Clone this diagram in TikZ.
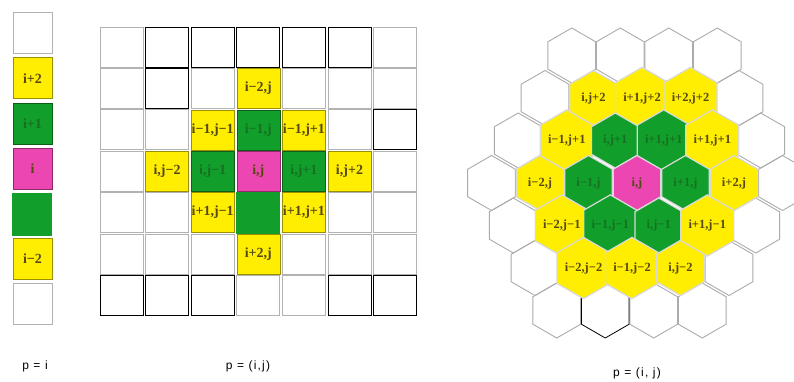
\documentclass[tikz,border=0pt]{standalone}
\usepackage{fontspec}
\setmainfont{Liberation Serif}
\newfontfamily\capfont[LetterSpace=10]{Liberation Sans}
\usetikzlibrary{shapes.geometric}
\definecolor{cellyellow}{RGB}{255,238,0}
\definecolor{cellgreen}{RGB}{18,158,42}
\definecolor{cellpink}{RGB}{236,70,178}
\definecolor{labelink}{RGB}{85,72,18}
\definecolor{greenink}{RGB}{22,112,34}

\begin{document}
\begin{tikzpicture}[x=1pt, y=-1pt,
    font=\fontsize{14}{14}\selectfont\bfseries,
    blank/.style={},
    sq/.style={draw=gray!60, line width=0.9pt, minimum width=43pt, minimum height=40pt, inner sep=0pt},
    hex/.style={regular polygon, regular polygon sides=6, shape border rotate=30, minimum size=55pt, inner sep=0pt, draw=gray!65, line width=0.9pt, font=\fontsize{12.5}{12.5}\selectfont\bfseries},
    blackline/.style={draw=black, line width=0.8pt},
    yel/.style={fill=cellyellow, draw=cellyellow!60!black, line width=0.6pt, text=labelink},
    grn/.style={fill=cellgreen, draw=cellgreen!60!black, line width=0.6pt, text=greenink},
    pnk/.style={fill=cellpink, draw=cellpink!60!black, line width=0.6pt, text=labelink},
    capt/.style={font=\capfont\fontsize{12}{12}\selectfont, text=black}]
    \fill[white] (0,0) rectangle (794,381);
    \useasboundingbox (0,0) rectangle (794,381);

    % one index: p = i
    \foreach \r/\look/\txt in {0/blank/{}, 1/yel/{i+2}, 2/grn/{i+1}, 3/pnk/{i}, 5/yel/{i−2}, 6/blank/{}}
        \node[sq, \look, minimum width=39pt, minimum height=41pt] (v\r) at (32.5, 33+45.2*\r) {\txt};
    \node[sq, grn, draw=none, minimum width=40pt, minimum height=43pt] (v4) at (32, 214) {};
    \node[capt] (cap1) at (35,366) {p = i};

    % two indices: square grid
    \foreach \c/\r in {0/0,6/0,0/1,2/1,4/1,5/1,6/1,0/2,1/2,5/2,0/3,6/3,0/4,1/4,5/4,6/4,0/5,1/5,2/5,4/5,5/5,6/5,3/6,4/6}
        \node[sq] (g\c\r) at (121.5+45.6*\c, 47+41.4*\r) {};
    \foreach \c/\r in {1/0,2/0,3/0,4/0,5/0,1/1,6/2,0/6,1/6,2/6,5/6,6/6}
        \node[sq, blackline] (g\c\r) at (121.5+45.6*\c, 47+41.4*\r) {};
    \foreach \c/\r/\look/\txt in {3/1/yel/{i−2,j}, 2/2/yel/{i−1,j−1}, 3/2/grn/{i−1,j}, 4/2/yel/{i−1,j+1},
        1/3/yel/{i,j−2}, 2/3/grn/{i,j−1}, 3/3/pnk/{i,j}, 4/3/grn/{i,j+1}, 5/3/yel/{i,j+2},
        2/4/yel/{i+1,j−1}, 4/4/yel/{i+1,j+1}, 3/5/yel/{i+2,j}}
        \node[sq, \look] (g\c\r) at (121.5+45.6*\c, 47+41.4*\r) {\txt};
    \node[sq, grn, draw=none, minimum width=44pt, minimum height=42pt] (g34) at (258.3, 212.6) {};
    \node[capt] (cap2) at (248,366) {p = (i,j)};

    % two indices: hexagonal grid
    \begin{scope}[shift={(637,183)}, x=24.25pt, y={(-2.5pt,-42.5pt)}]
        \foreach \a/\b in {-3/-3,-1/-3,1/-3,3/-3,-4/-2,4/-2,-5/-1,5/-1,-6/0,6/0,-5/1,5/1,-4/2,4/2,-3/3,1/3,3/3}
            \node[hex] (h\a x\b) at (\a,\b) {};
        \node[hex, blackline] (h-1x3) at (-1,3) {};
        \foreach \a/\b/\look/\txt in {-2/-2/yel/{i,j+2}, 0/-2/yel/{i+1,j+2}, 2/-2/yel/{i+2,j+2},
            -3/-1/yel/{i−1,j+1}, -1/-1/grn/{i,j+1}, 1/-1/grn/{i+1,j+1}, 3/-1/yel/{i+1,j+1},
            -4/0/yel/{i−2,j}, -2/0/grn/{i−1,j}, 0/0/pnk/{i,j}, 2/0/grn/{i+1,j}, 4/0/yel/{i+2,j},
            -3/1/yel/{i−2,j−1}, -1/1/grn/{i−1,j−1}, 1/1/grn/{i,j−1}, 3/1/yel/{i+1,j−1},
            -2/2/yel/{i−2,j−2}, 0/2/yel/{i−1,j−2}, 2/2/yel/{i,j−2}}
            \node[hex, \look, draw=gray!30, line width=1.2pt] (h\a x\b) at (\a,\b) {\txt};
    \end{scope}
    \node[capt] (cap3) at (637,373) {p = (i, j)};
\end{tikzpicture}
\end{document}
